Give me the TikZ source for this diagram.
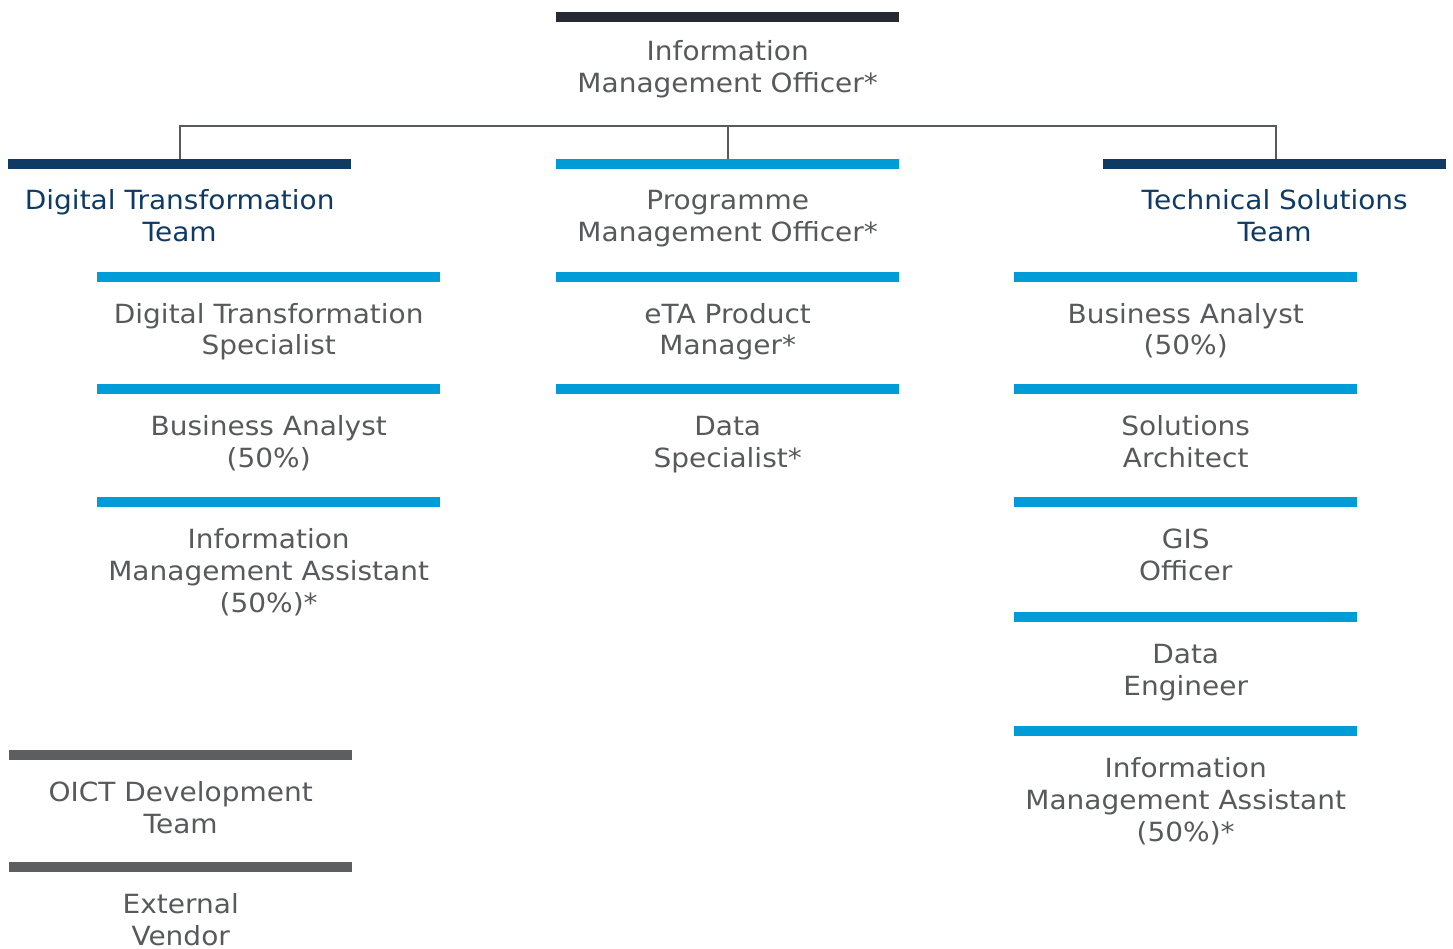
\documentclass[tikz,border=0pt]{standalone}
\usepackage{fontspec}
\setmainfont{DejaVu Sans}[FakeStretch=1.06]
\definecolor{topbar}{HTML}{262A33}
\definecolor{navy}{HTML}{0E3A64}
\definecolor{cyanbar}{HTML}{009CD8}
\definecolor{graybar}{HTML}{5D5E60}
\definecolor{txtgray}{HTML}{58595B}
\definecolor{conngray}{HTML}{58595B}
\begin{document}
\begin{tikzpicture}[x=1pt,y=-1pt,
  bar/.style={fill=#1, draw=none, minimum width=343pt, minimum height=9.5pt, inner sep=0pt, anchor=north west},
  role/.style={text=txtgray, align=center, anchor=north, inner sep=0pt, font=\fontsize{26.4}{32}\selectfont},
  team/.style={role, text=navy},
  conn/.style={draw=conngray, line width=2pt}]
\useasboundingbox (0,0) rectangle (1453,949);
% top
\node[bar=topbar] (imobar) at (556,12) {};
\node[role] (imo) at ([yshift=-16.5pt]imobar.south) {\strut Information\\Management Officer*};
% level 1
\node[bar=navy] (dtbar) at (8,159) {};
\node[team] (dt) at ([yshift=-18.5pt]dtbar.south) {\strut Digital Transformation\\Team};
\node[bar=cyanbar] (pmbar) at (556,159) {};
\node[role] (pm) at ([yshift=-18.5pt]pmbar.south) {\strut Programme\\Management Officer*};
\node[bar=navy] (tsbar) at (1103,159) {};
\node[team] (ts) at ([yshift=-18.5pt]tsbar.south) {\strut Technical Solutions\\Team};
% connectors
\draw[conn] (dtbar.north) -- ++(0,-33) -| ([xshift=1.5pt]tsbar.north);
\draw[conn] (pmbar.north) -- ++(0,-33);
% left column
\node[bar=cyanbar] (dtsbar) at (97,272) {};
\node[role] (dts) at ([yshift=-18.5pt]dtsbar.south) {\strut Digital Transformation\\Specialist};
\node[bar=cyanbar] (ba1bar) at (97,384) {};
\node[role] (ba1) at ([yshift=-18.5pt]ba1bar.south) {\strut Business Analyst\\(50\%)};
\node[bar=cyanbar] (ima1bar) at (97,497) {};
\node[role] (ima1) at ([yshift=-18.5pt]ima1bar.south) {\strut Information\\Management Assistant\\(50\%)*};
% middle column
\node[bar=cyanbar] (etabar) at (556,272) {};
\node[role] (eta) at ([yshift=-18.5pt]etabar.south) {\strut eTA Product\\Manager*};
\node[bar=cyanbar] (dsbar) at (556,384) {};
\node[role] (ds) at ([yshift=-18.5pt]dsbar.south) {\strut Data\\Specialist*};
% right column
\node[bar=cyanbar] (ba2bar) at (1014,272) {};
\node[role] (ba2) at ([yshift=-18.5pt]ba2bar.south) {\strut Business Analyst\\(50\%)};
\node[bar=cyanbar] (sabar) at (1014,384) {};
\node[role] (sa) at ([yshift=-18.5pt]sabar.south) {\strut Solutions\\Architect};
\node[bar=cyanbar] (gisbar) at (1014,497) {};
\node[role] (gis) at ([yshift=-18.5pt]gisbar.south) {\strut GIS\\Officer};
\node[bar=cyanbar] (debar) at (1014,612) {};
\node[role] (de) at ([yshift=-18.5pt]debar.south) {\strut Data\\Engineer};
\node[bar=cyanbar] (ima2bar) at (1014,726) {};
\node[role] (ima2) at ([yshift=-18.5pt]ima2bar.south) {\strut Information\\Management Assistant\\(50\%)*};
% bottom left
\node[bar=graybar] (oictbar) at (9,750) {};
\node[role] (oict) at ([yshift=-18.5pt]oictbar.south) {\strut OICT Development\\Team};
\node[bar=graybar] (evbar) at (9,862) {};
\node[role] (ev) at ([yshift=-18.5pt]evbar.south) {\strut External\\Vendor};
\end{tikzpicture}
\end{document}
